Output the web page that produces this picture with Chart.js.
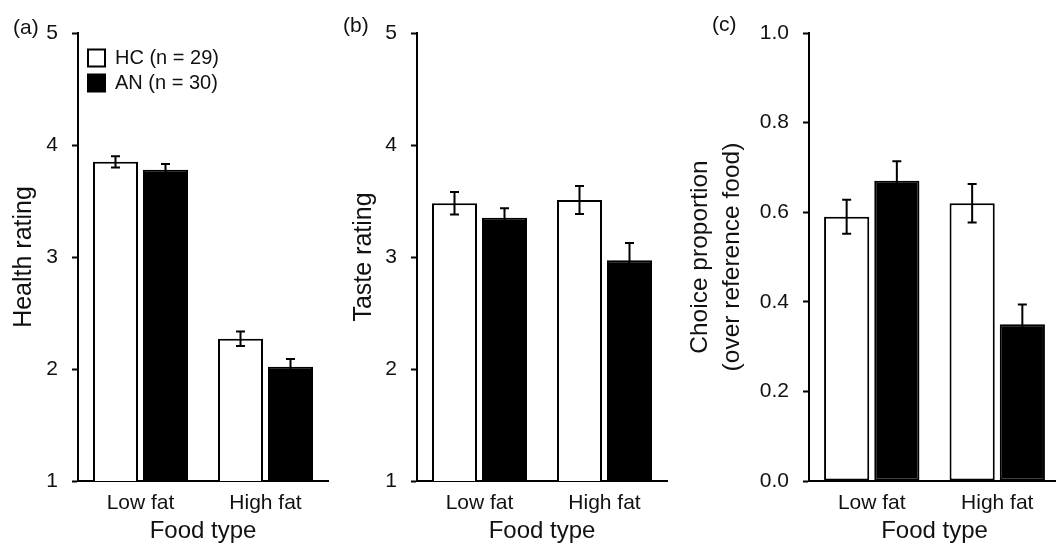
<!DOCTYPE html>
<html>
<head>
<meta charset="utf-8">
<script src="https://cdn.jsdelivr.net/npm/chart.js@4.4.0/dist/chart.umd.min.js"></script>
<style>
  html, body { margin: 0; padding: 0; background: #fff; overflow: hidden; width: 1056px; height: 547px; }
  .panel { position: absolute; top: 0; height: 547px; }
</style>
</head>
<body>
<div class="panel" style="left:0;width:340px"><canvas id="healthChart"></canvas></div>
<div class="panel" style="left:340px;width:340px"><canvas id="tasteChart"></canvas></div>
<div class="panel" style="left:680px;width:392px"><canvas id="choiceChart"></canvas></div>
<script>
const foodTypes = ['Low fat', 'High fat'];
const groupLabels = ['HC (n = 29)', 'AN (n = 30)'];

// (a) health rating
const healthHC = [3.85, 2.27];
const healthHCErr = [0.05, 0.065];
const healthAN = [3.78, 2.02];
const healthANErr = [0.05, 0.07];

// (b) taste rating
const tasteHC = [3.48, 3.51];
const tasteHCErr = [0.1, 0.125];
const tasteAN = [3.35, 2.97];
const tasteANErr = [0.085, 0.155];

// (c) choice proportion
const choiceHC = [0.59, 0.62];
const choiceHCErr = [0.038, 0.043];
const choiceAN = [0.67, 0.35];
const choiceANErr = [0.044, 0.044];

const ratingTicks = ['1', '2', '3', '4', '5'];
const choiceTicks = ['0.0', '0.2', '0.4', '0.6', '0.8', '1.0'];

const FONT = "'Liberation Sans', Arial, sans-serif";
const INK = '#111';
Chart.defaults.font.family = FONT;
Chart.defaults.color = INK;
Chart.defaults.animation = false;

// SEM whiskers on top of each bar
const errorBars = {
  id: 'errorBars',
  afterDatasetsDraw(chart) {
    const ctx = chart.ctx;
    const yScale = chart.scales.y;
    ctx.save();
    ctx.strokeStyle = '#000';
    ctx.lineWidth = 2;
    chart.data.datasets.forEach((ds, i) => {
      chart.getDatasetMeta(i).data.forEach((bar, j) => {
        const v = ds.data[j], e = ds.errors[j];
        const yTop = yScale.getPixelForValue(v + e);
        const yBot = yScale.getPixelForValue(v - e);
        const half = 4.5;
        ctx.beginPath();
        ctx.moveTo(bar.x, yTop); ctx.lineTo(bar.x, yBot);
        ctx.moveTo(bar.x - half, yTop); ctx.lineTo(bar.x + half, yTop);
        ctx.moveTo(bar.x - half, yBot); ctx.lineTo(bar.x + half, yBot);
        ctx.stroke();
      });
    });
    ctx.restore();
  }
};

const panelLabel = {
  id: 'panelLabel',
  afterDraw(chart, args, opts) {
    const ctx = chart.ctx;
    ctx.save();
    ctx.font = '21px ' + FONT;
    ctx.fillStyle = INK;
    ctx.textBaseline = 'alphabetic';
    ctx.fillText(opts.text, opts.x, opts.y);
    ctx.restore();
  }
};

// put the legend at the top-left corner inside the plot
const legendInside = {
  id: 'legendInside',
  afterLayout(chart, args, opts) {
    const lg = chart.legend;
    if (!lg || !lg.options.display) return;
    const a = chart.chartArea;
    lg.left = a.left + opts.dx;
    lg.right = a.right;
    lg.top = a.top + opts.dy;
    lg.bottom = a.bottom;
  }
};

function barChart(id, cfg) {
  return new Chart(document.getElementById(id), {
    type: 'bar',
    data: {
      labels: foodTypes,
      datasets: [
        { label: groupLabels[0], data: cfg.hc, errors: cfg.hcErr,
          backgroundColor: '#fff', borderColor: '#000', borderWidth: 2, borderSkipped: false },
        { label: groupLabels[1], data: cfg.an, errors: cfg.anErr,
          backgroundColor: '#000', borderColor: '#000', borderWidth: 2, borderSkipped: false }
      ]
    },
    options: {
      responsive: true,
      maintainAspectRatio: false,
      animation: false,
      layout: { padding: { left: 0, top: 33, right: cfg.padRight, bottom: 0 } },
      datasets: { bar: { categoryPercentage: 0.8, barPercentage: 0.9 } },
      plugins: {
        legend: cfg.legend ? {
          display: true,
          position: 'chartArea',
          align: 'start',
          labels: { boxWidth: 17, boxHeight: 17, padding: 5, font: { size: 20 }, color: INK }
        } : { display: false },
        tooltip: { enabled: false },
        panelLabel: cfg.panel,
        legendInside: { dx: 5, dy: 10 }
      },
      scales: {
        x: {
          afterFit: s => { s.height = 66; },
          ticks: { padding: 10, font: { size: 21 }, color: INK },
          grid: { drawOnChartArea: false, drawTicks: false },
          border: { display: true, color: '#000', width: 2 },
          title: { display: true, text: 'Food type', font: { size: 24 }, color: INK, padding: { top: 0, bottom: 1 } }
        },
        y: {
          min: cfg.min,
          max: cfg.max,
          afterFit: s => { s.width = cfg.axisWidth; },
          ticks: { stepSize: cfg.step, padding: 14, font: { size: 21 }, color: INK,
                   callback: (v, i) => cfg.ticks[i] },
          grid: { drawOnChartArea: false, drawTicks: true, tickLength: 6, tickWidth: 2, tickColor: '#000' },
          border: { display: true, color: '#000', width: 2 },
          title: { display: true, text: cfg.title, font: { size: cfg.titleSize, lineHeight: cfg.titleLH },
                   color: INK, padding: { top: cfg.titlePad, bottom: 0 } }
        }
      }
    },
    plugins: [errorBars, panelLabel, legendInside]
  });
}

barChart('healthChart', {
  hc: healthHC, hcErr: healthHCErr, an: healthAN, anErr: healthANErr,
  min: 1, max: 5, step: 1, ticks: ratingTicks,
  title: 'Health rating', titleSize: 25, titleLH: 1.2, titlePad: 9,
  axisWidth: 78, padRight: 12, legend: true,
  panel: { text: '(a)', x: 13, y: 34 }
});

barChart('tasteChart', {
  hc: tasteHC, hcErr: tasteHCErr, an: tasteAN, anErr: tasteANErr,
  min: 1, max: 5, step: 1, ticks: ratingTicks,
  title: 'Taste rating', titleSize: 25, titleLH: 1.2, titlePad: 9,
  axisWidth: 77, padRight: 13, legend: false,
  panel: { text: '(b)', x: 3, y: 32 }
});

barChart('choiceChart', {
  hc: choiceHC, hcErr: choiceHCErr, an: choiceAN, anErr: choiceANErr,
  min: 0, max: 1, step: 0.2, ticks: choiceTicks,
  title: ['Choice proportion', '(over reference food)'], titleSize: 24.5, titleLH: 1.28, titlePad: 5,
  axisWidth: 129, padRight: 12, legend: false,
  panel: { text: '(c)', x: 32, y: 31 }
});
</script>
</body>
</html>
